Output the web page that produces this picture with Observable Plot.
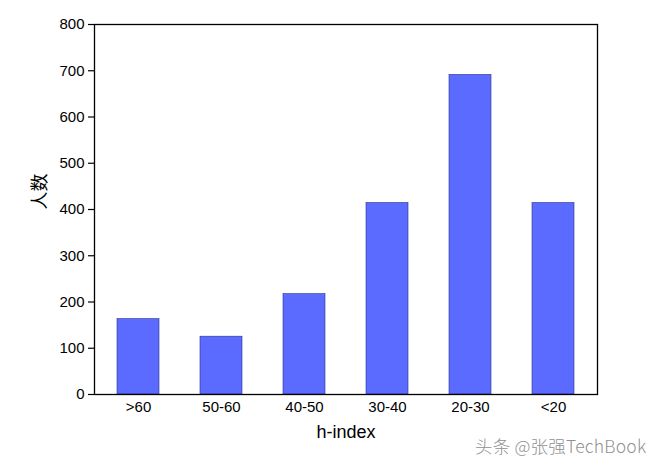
<!DOCTYPE html>
<html>
<head>
<meta charset="utf-8">
<script src="https://cdn.jsdelivr.net/npm/d3@7"></script>
<script src="https://cdn.jsdelivr.net/npm/@observablehq/plot@0.6"></script>
<style>
  html, body { margin: 0; padding: 0; background: #fff; }
  #wrap { position: relative; width: 664px; height: 468px; }
  #mark { position: absolute; left: 475px; top: 433px; font-family: "Noto Sans CJK SC", sans-serif; font-weight: 300; font-size: 17.5px; color: #909090; white-space: nowrap; letter-spacing: 0.2px; }
</style>
</head>
<body>
<div id="wrap"><div id="mark">头条 @张强TechBook</div></div>
<script>
const categories = [">60", "50-60", "40-50", "30-40", "20-30", "<20"];
const counts = [163, 125, 217, 414, 691, 414];
const yTicks = [0, 100, 200, 300, 400, 500, 600, 700, 800];
const xLabel = "h-index";
const yLabel = "人数";

const data = categories.map((c, i) => ({category: c, count: counts[i]}));

const chart = Plot.plot({
  width: 664,
  height: 468,
  marginLeft: 94,
  marginRight: 67,
  marginTop: 24,
  marginBottom: 74,
  style: {fontFamily: "'Liberation Sans', Arial, sans-serif", fontSize: "15px", color: "#000", background: "#fff"},
  x: {domain: categories, paddingInner: 0.49, paddingOuter: 0.25, label: null},
  y: {domain: [0, 800], ticks: yTicks, label: null},
  marks: [
    Plot.barY(data, {x: "category", y: "count", fill: "#5b6bff", stroke: "#2a2f8a", strokeWidth: 0.6}),
    Plot.frame({stroke: "#000", strokeWidth: 1.3}),
    Plot.axisY({ticks: yTicks, tickSize: 6, tickPadding: 4, label: null, fontSize: 15, strokeWidth: 1.2}),
    Plot.axisX({tickSize: 0, tickPadding: 7, label: null, fontSize: 15}),
    Plot.text([xLabel], {frameAnchor: "bottom", dy: 43, fontSize: 18, text: d => d}),
    Plot.text([yLabel], {frameAnchor: "left", dx: -54, rotate: -90, fontSize: 18, text: d => d, fontFamily: "'Noto Sans CJK SC', sans-serif"})
  ]
});
document.getElementById("wrap").prepend(chart);
</script>
</body>
</html>
